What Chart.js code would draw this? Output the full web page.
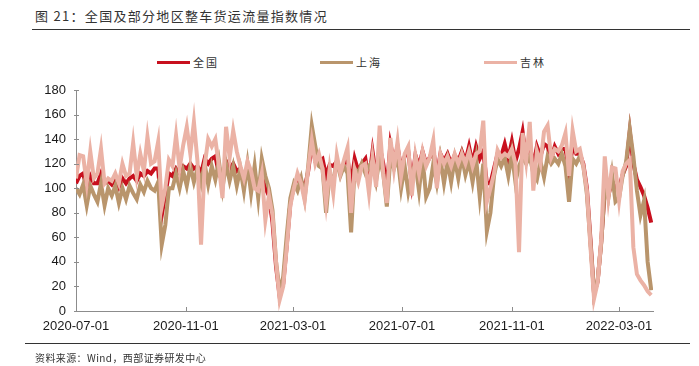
<!DOCTYPE html>
<html>
<head>
<meta charset="utf-8">
<script src="https://cdn.jsdelivr.net/npm/chart.js@4.4.1/dist/chart.umd.min.js"></script>
<style>
  body { margin: 0; background: #fff; }
  #wrap { position: relative; width: 699px; height: 366px; overflow: hidden; font-family: "Noto Sans CJK SC", sans-serif; color: #333; }
  #chart { position: absolute; left: 0; top: 0; }
  .title { position: absolute; left: 35px; top: 6px; font-size: 13px; line-height: 20px; letter-spacing: 1.3px; color: #333; }
  .rule { position: absolute; height: 1.5px; background: #333; }
  .source { position: absolute; left: 35px; top: 351px; font-size: 10px; line-height: 14px; letter-spacing: 0.4px; color: #333; }
  .lg { position: absolute; top: 54px; height: 16px; font-size: 11px; line-height: 16px; letter-spacing: 2px; color: #333; white-space: nowrap; }
  .lg i { position: absolute; left: 0; top: 6.5px; width: 33px; height: 3px; }
  .lg span { position: absolute; left: 36px; top: 0; }
</style>
</head>
<body>
<div id="wrap">
  <div class="title">图 21：全国及部分地区整车货运流量指数情况</div>
  <div class="rule" style="left:32px; top:28.5px; width:658px;"></div>
  <div id="legend"></div>
  <canvas id="chart" width="699" height="366"></canvas>
  <div class="rule" style="left:25px; top:342.5px; width:665px;"></div>
  <div class="source">资料来源：Wind，西部证券研发中心</div>
</div>
<script>
// days since 2020-07-01, one sample every 4 days
const stepDays = 4
const lastDay = 646
const tickDays = [0, 123, 243, 365, 488, 608]
const tickLabels = ['2020-07-01', '2020-11-01', '2021-03-01', '2021-07-01', '2021-11-01', '2022-03-01']

const seriesNames = ['全国', '上海', '吉林']
const seriesColors = ['#c8101e', '#b9956c', '#ebb2a5']

const national = [
  104, 110, 112, 100, 110, 104, 104, 112, 104, 106,
  103, 108, 101, 108, 104, 108, 110, 106, 112, 110,
  114, 112, 116, 116, 78, 95, 112,
  110, 116, 112, 118, 116, 120, 116, 118, 112, 124,
  120, 124, 126, 112, 106, 122, 116, 120, 114, 116,
  106, 116, 108, 104, 104, 110, 100, 94, 72, 36,
  12, 22, 54, 88,
  102, 108, 106, 100, 114, 136, 122, 122, 124, 110,
  119, 118, 122, 114, 120, 124, 104, 124, 114, 120,
  124, 106, 130, 110, 134, 120, 100, 136, 122, 134,
  116, 126, 130, 104, 127, 118, 130, 120, 125, 132,
  110, 128, 122, 128, 120, 127, 122, 130,
  122, 134, 120, 134, 124, 130, 104, 104, 116, 128,
  126, 136, 124, 138, 122, 132, 146, 124, 136, 118,
  134, 126, 136, 134, 124, 134, 128, 132, 132, 114,
  134, 128, 128, 120, 100, 58, 14, 24, 56, 98,
  94, 106, 100, 100, 111, 118, 146, 120, 107, 101,
  94, 84, 72
]

const shanghai = [
  100, 95, 103, 86, 102, 95, 89, 104, 86, 100,
  94, 102, 88, 100, 91, 102, 96, 91, 103, 97,
  106, 100, 98, 105, 54, 70, 100,
  100, 112, 100, 114, 102, 118, 105, 116, 104, 120,
  103, 118, 107, 122, 100, 120, 106, 118, 102, 116,
  98, 120, 96, 118, 92, 124, 110, 100, 82, 40,
  16, 28, 62, 92,
  104, 98, 108, 92, 118, 151, 134, 118, 116, 80,
  112, 105, 122, 110, 118, 112, 64, 116, 112, 120,
  112, 118, 122, 106, 124, 112, 85, 125, 116, 126,
  100, 118, 97, 112, 120, 98, 125, 93, 100, 120,
  104, 124, 104, 122, 105, 124, 108, 126,
  111, 122, 105, 124, 93, 120, 65, 80, 110, 124,
  118, 125, 110, 128, 105, 118, 125, 120, 126, 112,
  107, 122, 109, 126, 120, 124, 120, 128, 118, 89,
  124, 120, 126, 118, 95, 55, 14, 25, 55, 100,
  92, 112, 89, 92, 110, 122, 148, 126, 98, 78,
  90, 40, 17
]

const jilin = [
  108, 127, 126, 104, 130, 108, 112, 132, 104, 108,
  106, 112, 104, 120, 110, 112, 137, 110, 128, 114,
  142, 120, 122, 138, 85, 100, 123,
  118, 143, 116, 135, 150, 128, 154, 122, 54, 118,
  140, 134, 140, 118, 92, 150, 125, 147, 130, 118,
  108, 122, 114, 100, 98, 112, 74, 94, 78, 40,
  9, 20, 52, 86,
  100, 112, 104, 90, 116, 139, 120, 128, 116, 88,
  116, 96, 127, 112, 123, 133, 80, 115, 105, 118,
  120, 96, 125, 101, 151, 112, 88, 141, 116, 138,
  110, 128, 134, 94, 127, 112, 130, 118, 125, 139,
  100, 128, 120, 126, 118, 128, 120, 128,
  120, 130, 118, 128, 130, 155, 89, 100, 112, 131,
  125, 128, 126, 132, 120, 48, 145, 122, 154, 98,
  130, 120, 146, 151, 125, 132, 130, 135, 145, 110,
  147, 130, 132, 118, 98, 52, 10, 23, 58, 126,
  92, 117, 116, 90, 114, 120, 123, 52, 30, 25,
  21, 16, 13
]

// legend in html, spaced like the original
const legendLeft = [157, 320, 484]
const legendEl = document.getElementById('legend')
seriesNames.forEach((name, i) => {
  const d = document.createElement('div')
  d.className = 'lg'
  d.style.left = legendLeft[i] + 'px'
  d.innerHTML = '<i style="background:' + seriesColors[i] + '"></i><span>' + name + '</span>'
  legendEl.appendChild(d)
})

const toPoints = arr => arr.map((v, i) => ({ x: i * stepDays, y: v }))

// short tick marks pointing into the plot
const innerTicks = {
  id: 'innerTicks',
  afterDraw(chart) {
    const { ctx, chartArea, scales } = chart
    ctx.save()
    ctx.strokeStyle = '#8c8c8c'
    ctx.lineWidth = 1
    ctx.beginPath()
    scales.x.ticks.forEach(t => {
      const px = Math.round(scales.x.getPixelForValue(t.value)) + 0.5
      ctx.moveTo(px, chartArea.bottom)
      ctx.lineTo(px, chartArea.bottom - 4)
    })
    scales.y.ticks.forEach(t => {
      const py = Math.round(scales.y.getPixelForValue(t.value)) + 0.5
      ctx.moveTo(chartArea.left - 2, py)
      ctx.lineTo(chartArea.left + 3, py)
    })
    ctx.stroke()
    ctx.restore()
  }
}

const seriesData = [national, shanghai, jilin]
const ctx = document.getElementById('chart').getContext('2d')
const chart = new Chart(ctx, {
  type: 'line',
  data: {
    datasets: seriesNames.map((name, i) => ({
      label: name,
      data: toPoints(seriesData[i]),
      borderColor: seriesColors[i],
      backgroundColor: seriesColors[i],
      borderWidth: 4,
      pointRadius: 0,
      tension: 0,
      order: 3 - i
    }))
  },
  options: {
    responsive: false,
    animation: false,
    layout: { padding: { left: 0, right: 46, top: 90, bottom: 25 } },
    plugins: { legend: { display: false }, tooltip: { enabled: false } },
    scales: {
      x: {
        type: 'linear',
        min: 0,
        max: lastDay,
        afterBuildTicks: scale => { scale.ticks = tickDays.map(v => ({ value: v })) },
        afterFit: scale => { scale.height = 30 },
        grid: { drawOnChartArea: false, drawTicks: false },
        border: { color: '#8c8c8c', width: 1 },
        ticks: {
          autoSkip: false,
          maxRotation: 0,
          padding: 8,
          color: '#1a1a1a',
          font: { family: 'Liberation Sans', size: 13 },
          callback: value => tickLabels[tickDays.indexOf(value)]
        }
      },
      y: {
        min: 0,
        max: 180,
        afterFit: scale => { scale.width = 76 },
        grid: { drawOnChartArea: false, drawTicks: false },
        border: { color: '#8c8c8c', width: 1 },
        ticks: {
          stepSize: 20,
          padding: 10,
          color: '#1a1a1a',
          font: { family: 'Liberation Sans', size: 13 }
        }
      }
    }
  },
  plugins: [innerTicks]
})
</script>
</body>
</html>
